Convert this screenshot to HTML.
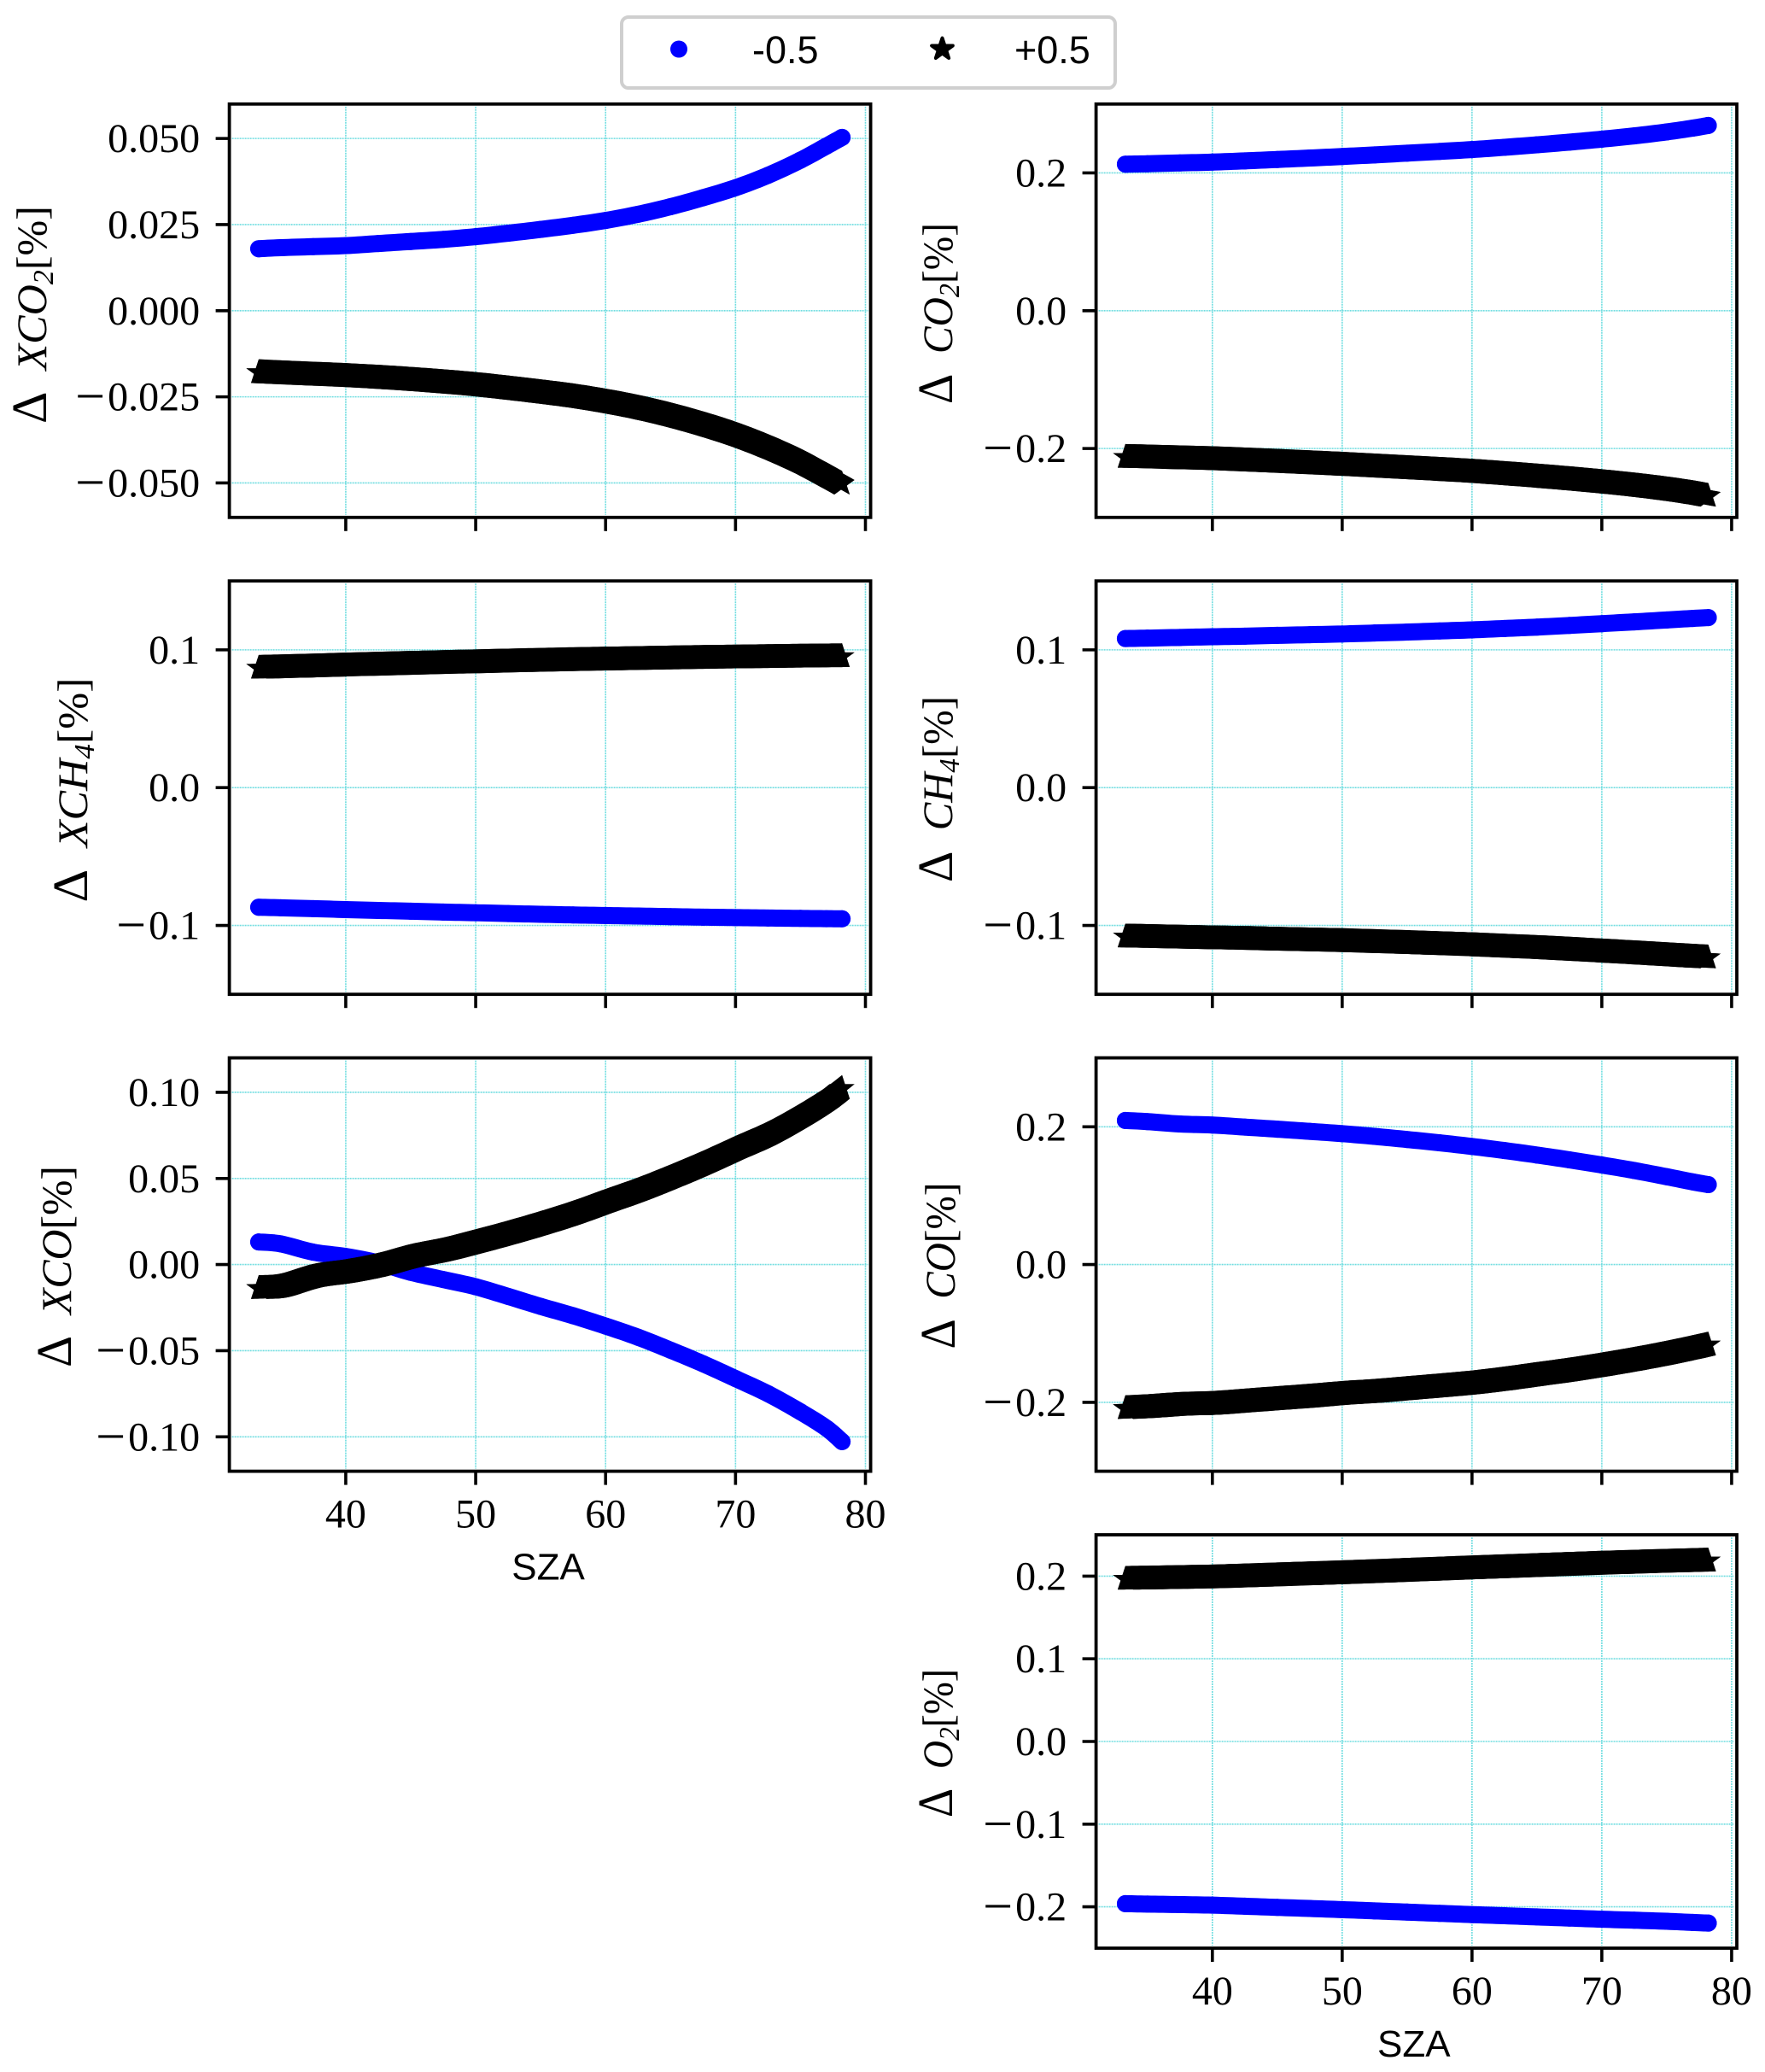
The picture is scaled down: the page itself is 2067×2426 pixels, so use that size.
<!DOCTYPE html>
<html lang="en">
<head>
<meta charset="utf-8">
<title>SZA sensitivity panels</title>
<style>
html,body{margin:0;padding:0;background:#fff;}
svg{display:block;}
.tick-label{font-family:"Liberation Serif",serif;font-size:48px;fill:#000;}
.axis-label{font-family:"Liberation Sans",sans-serif;font-size:44px;fill:#000;}
.math-label{font-family:"Liberation Serif",serif;font-size:50px;fill:#000;}
.legend-text{font-family:"Liberation Sans",sans-serif;font-size:45px;fill:#000;}
</style>
</head>
<body>
<svg id="figure" xmlns="http://www.w3.org/2000/svg" width="2067" height="2426" viewBox="0 0 2067 2426">
  <rect x="0" y="0" width="2067" height="2426" fill="#fff"/>
  <g id="panels"></g>
  <g>
    <rect x="728" y="20" width="578" height="83" rx="8" ry="8" fill="#fff" stroke="#cfcfcf" stroke-width="4"/>
    <circle cx="795" cy="57.5" r="10" fill="#0000ff"/>
    <text class="legend-text" x="881" y="74">-0.5</text>
    <path d="M1103.5 44.5L1106.44 53.45L1115.86 53.48L1108.26 59.05L1111.14 68.02L1103.5 62.5L1095.86 68.02L1098.74 59.05L1091.14 53.48L1100.56 53.45Z" fill="#000" stroke="#000" stroke-width="4" stroke-linejoin="round"/>
    <text class="legend-text" x="1188" y="74">+0.5</text>
  </g>
</svg>
<script>
// Solar zenith angle samples
const szaValues = [33.3,35,37.5,40,42.5,45,47.5,50,52.5,55,57.5,60,62.5,65,67.5,70,72.5,75,77,78.2];

// Values read per panel: minus = -0.5 (blue), plus = +0.5 (black)
const xco2Minus = [.0180,.0183,.0186,.0189,.0195,.0201,.0207,.0215,.0225,.0236,.0248,.0262,.0280,.0302,.0328,.0357,.0393,.0437,.0478,.0503];
const xco2Plus = [-.0179,-.0182,-.0186,-.0190,-.0195,-.0201,-.0208,-.0216,-.0226,-.0237,-.0249,-.0264,-.0282,-.0304,-.0330,-.0360,-.0396,-.0438,-.0478,-.0503];
const co2Minus = [.2127,.2133,.2145,.2157,.2175,.2195,.2216,.2238,.2262,.2287,.2312,.2339,.2372,.2408,.2447,.2490,.2538,.2595,.2650,.2689];
const co2Plus = [-.2125,-.2132,-.2145,-.2157,-.2175,-.2195,-.2216,-.2238,-.2262,-.2287,-.2312,-.2339,-.2372,-.2408,-.2447,-.2490,-.2538,-.2595,-.2650,-.2690];
const xch4Minus = [-.0868,-.0872,-.0878,-.0885,-.0891,-.0897,-.0903,-.0908,-.0914,-.0919,-.0924,-.0928,-.0932,-.0936,-.0940,-.0943,-.0946,-.0949,-.0951,-.0952];
const xch4Plus = [.0868,.0872,.0878,.0885,.0891,.0897,.0903,.0908,.0914,.0919,.0924,.0928,.0932,.0936,.0940,.0943,.0946,.0949,.0951,.0952];
const ch4Minus = [.1082,.1085,.1090,.1095,.1099,.1105,.1110,.1115,.1122,.1129,.1137,.1145,.1155,.1165,.1177,.1190,.1203,.1217,.1228,.1234];
const ch4Plus = [-.1082,-.1085,-.1090,-.1095,-.1099,-.1105,-.1110,-.1115,-.1122,-.1129,-.1137,-.1145,-.1155,-.1165,-.1177,-.1190,-.1203,-.1217,-.1228,-.1234];
const xcoMinus = [.0131,.0120,.0072,.0047,.0010,-.0045,-.0087,-.0129,-.0185,-.0243,-.0297,-.0357,-.0422,-.0497,-.0576,-.0662,-.0750,-.0855,-.0950,-.1028];
const xcoPlus = [-.0138,-.0128,-.0072,-.0045,-.0008,.0043,.0081,.0129,.0180,.0235,.0295,.0363,.0430,.0505,.0585,.0671,.0755,.0860,.0955,.1024];
const coMinus = [.2091,.2075,.2040,.2025,.1995,.1965,.1933,.1900,.1860,.1815,.1767,.1714,.1655,.1590,.1520,.1445,.1365,.1275,.1200,.1160];
const coPlus = [-.2087,-.2072,-.2040,-.2025,-.1990,-.1955,-.1920,-.1880,-.1850,-.1810,-.1770,-.1727,-.1670,-.1605,-.1540,-.1466,-.1385,-.1295,-.1215,-.1164];
const o2Minus = [-.1962,-.1967,-.1973,-.1980,-.1993,-.2007,-.2020,-.2034,-.2049,-.2064,-.2079,-.2094,-.2108,-.2122,-.2136,-.2150,-.2162,-.2175,-.2189,-.2197];
const o2Plus = [.1965,.1968,.1975,.1982,.1994,.2007,.2020,.2033,.2047,.2062,.2077,.2092,.2106,.2120,.2134,.2148,.2160,.2172,.2180,.2186];

// Tick values and printed labels
const xTicks = [40,50,60,70,80];
const xTickLabels = ["40","50","60","70","80"];
const xco2Ticks = [0.05,0.025,0,-0.025,-0.05];
const xco2TickLabels = ["0.050","0.025","0.000","\u22120.025","\u22120.050"];
const co2Ticks = [0.2,0,-0.2];
const co2TickLabels = ["0.2","0.0","\u22120.2"];
const ch4Ticks = [0.1,0,-0.1];
const ch4TickLabels = ["0.1","0.0","\u22120.1"];
const xcoTicks = [0.1,0.05,0,-0.05,-0.1];
const xcoTickLabels = ["0.10","0.05","0.00","\u22120.05","\u22120.10"];
const coTicks = [0.2,0,-0.2];
const coTickLabels = ["0.2","0.0","\u22120.2"];
const o2Ticks = [0.2,0.1,0,-0.1,-0.2];
const o2TickLabels = ["0.2","0.1","0.0","\u22120.1","\u22120.2"];

const xDomain = [31.04,80.4];
const NS = "http://www.w3.org/2000/svg";
const panelsRoot = document.getElementById("panels");
const STAR_R = 15.3;
const STAR_CHORDS = [[0,2],[0,3],[1,3],[1,4],[2,4]];

function make(tag, attrs, parent) {
  const el = document.createElementNS(NS, tag);
  for (const k in attrs) el.setAttribute(k, attrs[k]);
  parent.appendChild(el);
  return el;
}

function starPath(cx, cy, R) {
  const r = R * 0.382;
  let d = "";
  for (let i = 0; i < 10; i++) {
    const a = -Math.PI / 2 + i * Math.PI / 5;
    const q = i % 2 === 0 ? R : r;
    d += (i === 0 ? "M" : "L") + (cx + q * Math.cos(a)).toFixed(2) + " " + (cy + q * Math.sin(a)).toFixed(2);
  }
  return d + "Z";
}

// Curve drawn through the screen positions of the read values
function smoothCurve(px) {
  const out = [];
  for (let i = 0; i < px.length - 1; i++) {
    const p0 = px[Math.max(i - 1, 0)], p1 = px[i], p2 = px[i + 1], p3 = px[Math.min(i + 2, px.length - 1)];
    for (let k = 0; k < 8; k++) {
      const t = k / 8, t2 = t * t, t3 = t2 * t;
      out.push([
        0.5 * (2 * p1[0] + (p2[0] - p0[0]) * t + (2 * p0[0] - 5 * p1[0] + 4 * p2[0] - p3[0]) * t2 + (3 * p1[0] - p0[0] - 3 * p2[0] + p3[0]) * t3),
        0.5 * (2 * p1[1] + (p2[1] - p0[1]) * t + (2 * p0[1] - 5 * p1[1] + 4 * p2[1] - p3[1]) * t2 + (3 * p1[1] - p0[1] - 3 * p2[1] + p3[1]) * t3)
      ]);
    }
  }
  out.push(px[px.length - 1]);
  return out;
}

function drawPanel(p) {
  const g = make("g", {}, panelsRoot);
  
  
  const xScale = v => p.left + (v - xDomain[0]) / (xDomain[1] - xDomain[0]) * (p.right - p.left);
  const yScale = v => p.bottom - (v + p.yMax) / (2 * p.yMax) * (p.bottom - p.top);

  // Grid
  xTicks.forEach(t => {
    const line = make("line", {x1: xScale(t), x2: xScale(t), y1: p.top + 3, y2: p.bottom - 3, stroke: "#6fdde0", "stroke-width": 1.6, "stroke-dasharray": "2 1"}, g);
    
    
  });
  p.ticks.forEach(t => {
    const line = make("line", {x1: p.left + 3, x2: p.right - 3, y1: yScale(t), y2: yScale(t), stroke: "#6fdde0", "stroke-width": 1.6, "stroke-dasharray": "2 1"}, g);
    
    
  });

  // Blue series (-0.5)
  const bluePx = szaValues.map((s, i) => [xScale(s), yScale(p.minus[i])]);
  const blueCurve = smoothCurve(bluePx);
  const blueLine = make("polyline", {points: blueCurve.map(q => q[0].toFixed(2) + "," + q[1].toFixed(2)).join(" "), fill: "none", stroke: "#0000ff", "stroke-width": 20, "stroke-linecap": "round", "stroke-linejoin": "round"}, g);
  
  
  szaValues.forEach((s, i) => {
    const dot = make("circle", {cx: xScale(s), cy: yScale(p.minus[i]), r: 10, fill: "#0000ff"}, g);
    
    
  });

  // Black series (+0.5): star outline swept along the curve
  const blackPx = szaValues.map((s, i) => [xScale(s), yScale(p.plus[i])]);
  const blackCurve = smoothCurve(blackPx);
  const tips = [0, 1, 2, 3, 4].map(k => {
    const a = -Math.PI / 2 + k * 2 * Math.PI / 5;
    return [STAR_R * Math.cos(a), STAR_R * Math.sin(a)];
  });
  STAR_CHORDS.forEach(ch => {
    const a = tips[ch[0]], b = tips[ch[1]];
    const forward = blackCurve.map(q => (q[0] + a[0]).toFixed(2) + "," + (q[1] + a[1]).toFixed(2));
    const back = blackCurve.map(q => (q[0] + b[0]).toFixed(2) + "," + (q[1] + b[1]).toFixed(2)).reverse();
    const ribbon = make("polygon", {points: forward.concat(back).join(" "), fill: "#000"}, g);
    
    
  });
  szaValues.forEach((s, i) => {
    const star = make("path", {d: starPath(xScale(s), yScale(p.plus[i]), STAR_R), fill: "#000"}, g);
    
    
  });

  // Spines
  const frame = make("rect", {x: p.left, y: p.top, width: p.right - p.left, height: p.bottom - p.top, fill: "none", stroke: "#000", "stroke-width": 3.8}, g);
  
  

  // X ticks
  xTicks.forEach((t, i) => {
    const tick = make("line", {x1: xScale(t), x2: xScale(t), y1: p.bottom, y2: p.bottom + 16, stroke: "#000", "stroke-width": 3.6}, g);
    
    
    if (p.showX) {
      const lab = make("text", {x: xScale(t), y: p.bottom + 66, "text-anchor": "middle", class: "tick-label"}, g);
      
      
      lab.textContent = xTickLabels[i];
    }
  });

  // Y ticks
  p.ticks.forEach((t, i) => {
    const tick = make("line", {x1: p.left - 16, x2: p.left, y1: yScale(t), y2: yScale(t), stroke: "#000", "stroke-width": 3.6}, g);
    
    
    const lab = make("text", {x: p.left - 34.5, y: yScale(t) + 16, "text-anchor": "end", class: "tick-label"}, g);
    
    
    const txt = p.labels[i];
    if (txt.charAt(0) === "\u2212") {
      const m = make("tspan", {"font-size": 62, dy: 4}, lab);
      m.textContent = "\u2212";
      const rest = make("tspan", {dx: 3, dy: -4}, lab);
      rest.textContent = txt.slice(1);
    } else {
      lab.textContent = txt;
    }
  });

  // Y label
  const yl = make("text", {
    transform: "translate(" + p.labelX + "," + p.labelY + ") rotate(-90)",
    "text-anchor": "middle", class: "math-label",
    textLength: p.labelLen, lengthAdjust: "spacingAndGlyphs"
  }, g);
  
  
  const d0 = make("tspan", {"font-size": 58}, yl);
  d0.textContent = "\u0394";
  const d1 = make("tspan", {}, yl);
  d1.textContent = "\u00a0\u00a0";
  const d2 = make("tspan", {"font-style": "italic"}, yl);
  d2.textContent = p.species;
  if (p.sub) {
    const d3 = make("tspan", {dy: 8, "font-size": 34, "font-style": "italic"}, yl);
    d3.textContent = p.sub;
    const d4 = make("tspan", {dy: -8}, yl);
    d4.textContent = "[%]";
  } else {
    const d4 = make("tspan", {}, yl);
    d4.textContent = "[%]";
  }

  // X label
  if (p.showX) {
    const xl = make("text", {x: (p.left + p.right) / 2 + (p.id === "o2" ? -3 : -2), y: p.bottom + 127, "text-anchor": "middle", class: "axis-label"}, g);
    
    
    xl.textContent = "SZA";
  }
}

const leftCol = {left: 268.6, right: 1019.6};
const rightCol = {left: 1283.6, right: 2034};
drawPanel({id: "xco2", ...leftCol, top: 121.8, bottom: 605.8, yMax: 0.06, ticks: xco2Ticks, labels: xco2TickLabels, minus: xco2Minus, plus: xco2Plus, species: "XCO", sub: "2", labelX: 54, labelY: 368.5, labelLen: 255, showX: false});
drawPanel({id: "co2", ...rightCol, top: 121.8, bottom: 605.8, yMax: 0.3, ticks: co2Ticks, labels: co2TickLabels, minus: co2Minus, plus: co2Plus, species: "CO", sub: "2", labelX: 1115, labelY: 367, labelLen: 212, showX: false});
drawPanel({id: "xch4", ...leftCol, top: 680.2, bottom: 1164.2, yMax: 0.15, ticks: ch4Ticks, labels: ch4TickLabels, minus: xch4Minus, plus: xch4Plus, species: "XCH", sub: "4", labelX: 102, labelY: 925, labelLen: 263, showX: false});
drawPanel({id: "ch4", ...rightCol, top: 680.2, bottom: 1164.2, yMax: 0.15, ticks: ch4Ticks, labels: ch4TickLabels, minus: ch4Minus, plus: ch4Plus, species: "CH", sub: "4", labelX: 1115, labelY: 924, labelLen: 218, showX: false});
drawPanel({id: "xco", ...leftCol, top: 1238.6, bottom: 1722.6, yMax: 0.12, ticks: xcoTicks, labels: xcoTickLabels, minus: xcoMinus, plus: xcoPlus, species: "XCO", sub: "", labelX: 83, labelY: 1483, labelLen: 236, showX: true});
drawPanel({id: "co", ...rightCol, top: 1238.6, bottom: 1722.6, yMax: 0.3, ticks: coTicks, labels: coTickLabels, minus: coMinus, plus: coPlus, species: "CO", sub: "", labelX: 1118, labelY: 1482, labelLen: 195, showX: false});
drawPanel({id: "o2", ...rightCol, top: 1797, bottom: 2281, yMax: 0.25, ticks: o2Ticks, labels: o2TickLabels, minus: o2Minus, plus: o2Plus, species: "O", sub: "2", labelX: 1115, labelY: 2041, labelLen: 174, showX: true});
</script>
</body>
</html>
